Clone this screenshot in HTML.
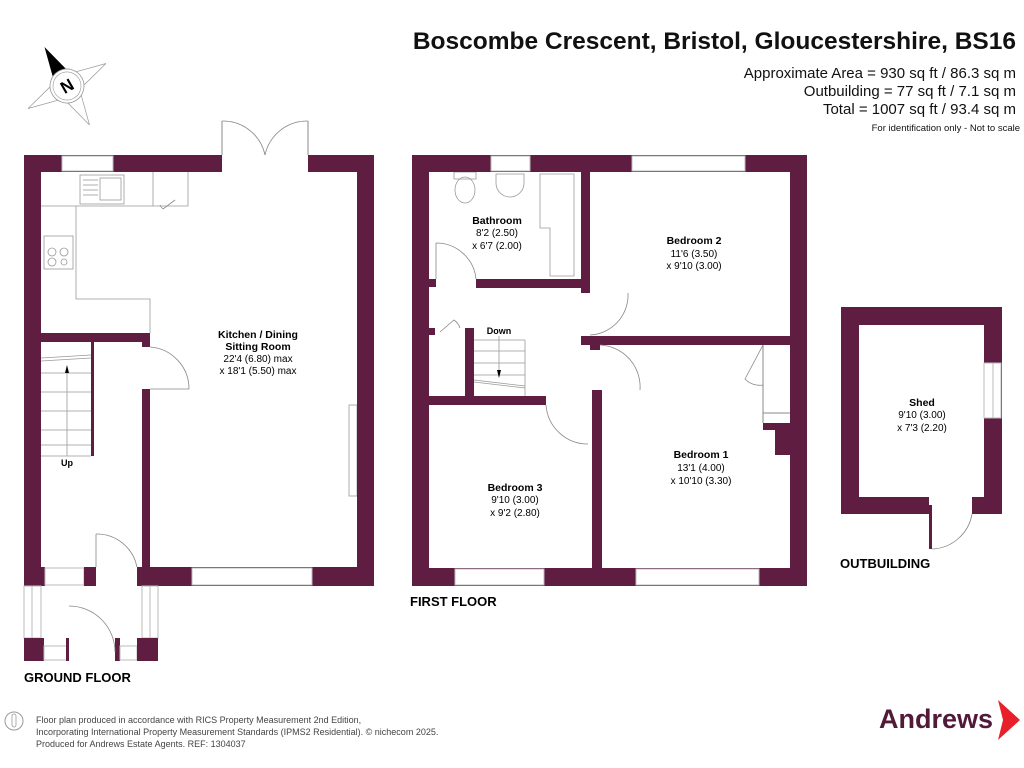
<!DOCTYPE html>
<html><head><meta charset="utf-8"><style>
body{margin:0;background:#fff;}
svg{display:block;font-family:"Liberation Sans",Arial,sans-serif;}
</style></head><body>
<svg width="1024" height="768" viewBox="0 0 1024 768" xmlns="http://www.w3.org/2000/svg">
<defs><style>.w{fill:#5e1d41}.win{fill:#fff;stroke:#bbb;stroke-width:1}.t{stroke:#999;stroke-width:0.8;fill:none}.d{stroke:#888;stroke-width:0.8;fill:none}</style></defs>

<text x="1016" y="49" text-anchor="end" font-size="24.5" font-weight="bold" fill="#111">Boscombe Crescent, Bristol, Gloucestershire, BS16</text>
<text x="1016" y="78" text-anchor="end" font-size="15" fill="#111">Approximate Area = 930 sq ft / 86.3 sq m</text>
<text x="1016" y="96" text-anchor="end" font-size="15" fill="#111">Outbuilding = 77 sq ft / 7.1 sq m</text>
<text x="1016" y="114" text-anchor="end" font-size="15" fill="#111">Total = 1007 sq ft / 93.4 sq m</text>
<text x="1020" y="131" text-anchor="end" font-size="9.5" fill="#111">For identification only - Not to scale</text>

<g transform="translate(67,86) rotate(-30)">
<polygon points="0,-45 8,-14 0,-16 -8,-14" fill="#000"/>
<polygon points="0,-16 8,-14 16,0 0,0" fill="none" stroke="#999" stroke-width="0.7"/>
<polygon points="45,0 14,8 16,0 14,-8" fill="none" stroke="#999" stroke-width="0.7"/>
<polygon points="0,45 -8,14 0,16 8,14" fill="none" stroke="#999" stroke-width="0.7"/>
<polygon points="-45,0 -14,-8 -16,0 -14,8" fill="none" stroke="#999" stroke-width="0.7"/>
<circle r="17" fill="#fff" stroke="#999" stroke-width="0.8"/>
<circle r="14" fill="none" stroke="#999" stroke-width="0.6"/>
<text x="0" y="6" text-anchor="middle" font-size="17" font-weight="bold">N</text>
</g>

<path class="t" d="M41,206 H76 V299 H150 V333 M76,206 H188 V172 M153,172 V206"/>
<rect x="80" y="175" width="44" height="29" class="t"/>
<rect x="100" y="178" width="21" height="22" class="t"/>
<line x1="83" y1="180" x2="98" y2="180" class="t"/><line x1="83" y1="185" x2="98" y2="185" class="t"/><line x1="83" y1="190" x2="98" y2="190" class="t"/><line x1="83" y1="195" x2="98" y2="195" class="t"/>
<rect x="44" y="236" width="29" height="33" class="t"/>
<circle cx="52" cy="252" r="4" class="t"/><circle cx="64" cy="252" r="4" class="t"/><circle cx="52" cy="262" r="4" class="t"/><circle cx="64" cy="262" r="3" class="t"/>
<path class="d" d="M163,209 L175,200 M163,209 A12,12 0 0 1 160,205"/>
<rect x="349" y="405" width="8" height="91" class="t"/>
<rect class="w" x="24" y="155" width="198" height="17"/>
<rect class="w" x="308" y="155" width="66" height="17"/>
<rect class="win" x="62" y="156" width="51" height="15"/>
<rect class="w" x="24" y="155" width="17" height="431"/>
<rect class="w" x="357" y="155" width="17" height="431"/>
<rect class="w" x="137" y="567" width="237" height="19"/>
<rect class="win" x="192" y="568" width="120" height="17"/>
<rect class="w" x="24" y="567" width="21" height="19"/>
<rect class="win" x="45" y="568" width="39" height="17"/>
<rect class="w" x="84" y="567" width="12" height="19"/>
<rect class="w" x="41" y="333" width="109" height="9"/>
<rect class="w" x="142" y="342" width="8" height="5"/>
<rect class="w" x="142" y="389" width="8" height="178"/>
<rect class="w" x="91" y="342" width="3" height="114"/>
<line x1="222" y1="121" x2="222" y2="155" stroke="#888"/>
<line x1="308" y1="121" x2="308" y2="155" stroke="#888"/>
<path class="d" d="M222,121 A43,43 0 0 1 265,155 M308,121 A43,43 0 0 0 265,155"/>
<g class="t">
<line x1="41" y1="358" x2="91" y2="355"/><line x1="41" y1="361" x2="91" y2="358"/>
<line x1="41" y1="373" x2="91" y2="373"/><line x1="41" y1="392" x2="91" y2="392"/><line x1="41" y1="411" x2="91" y2="411"/><line x1="41" y1="430" x2="91" y2="430"/><line x1="41" y1="445" x2="91" y2="445"/><line x1="41" y1="456" x2="91" y2="456"/>
<line x1="67" y1="372" x2="67" y2="456"/></g>
<polygon points="67,365 65,373 69,373" fill="#000"/>
<text x="67" y="466" text-anchor="middle" font-size="9" font-weight="bold">Up</text>
<path class="d" d="M150,347 A42,42 0 0 1 189,389 L150,389"/>
<path class="d" d="M96,534 V567 M96,534 A41,41 0 0 1 137,567"/>
<rect class="win" x="24" y="586" width="17" height="52"/><line x1="32" y1="586" x2="32" y2="638" stroke="#bbb"/>
<rect class="win" x="142" y="586" width="16" height="52"/><line x1="150" y1="586" x2="150" y2="638" stroke="#bbb"/>
<rect class="w" x="24" y="638" width="20" height="23"/>
<rect class="win" x="44" y="646" width="23" height="14"/>
<rect class="w" x="66" y="638" width="3" height="23"/>
<rect class="w" x="115" y="638" width="5" height="23"/>
<rect class="win" x="120" y="646" width="17" height="14"/>
<rect class="w" x="137" y="638" width="21" height="23"/>
<path class="d" d="M69,606 A46,46 0 0 1 115,652"/>
<text x="258" y="338" text-anchor="middle" font-size="10.5" font-weight="bold">Kitchen / Dining</text>
<text x="258" y="350" text-anchor="middle" font-size="10.5" font-weight="bold">Sitting Room</text>
<text x="258" y="362" text-anchor="middle" font-size="10">22'4 (6.80) max</text>
<text x="258" y="374" text-anchor="middle" font-size="10">x 18'1 (5.50) max</text>
<text x="24" y="682" font-size="13" font-weight="bold">GROUND FLOOR</text>

<ellipse cx="465" cy="190" rx="10" ry="13" class="t"/><rect x="454" y="172" width="22" height="7" class="t"/>
<path class="t" d="M496,174 H524 V183 A14,14 0 0 1 496,183 Z"/>
<path class="t" d="M540,174 H574 V276 H550 V228 H540 Z"/>
<rect class="w" x="412" y="155" width="395" height="17"/>
<rect class="win" x="491" y="156" width="39" height="15"/>
<rect class="win" x="632" y="156" width="113" height="15"/>
<rect class="w" x="412" y="155" width="17" height="431"/>
<rect class="w" x="790" y="155" width="17" height="431"/>
<rect class="w" x="412" y="568" width="395" height="18"/>
<rect class="win" x="455" y="569" width="89" height="16"/>
<rect class="win" x="636" y="569" width="123" height="16"/>
<rect class="w" x="581" y="172" width="9" height="121"/>
<rect class="w" x="476" y="279" width="114" height="9"/>
<rect class="w" x="429" y="279" width="7" height="8"/>
<rect class="w" x="581" y="336" width="226" height="9"/>
<rect class="w" x="590" y="345" width="10" height="5"/>
<rect class="w" x="592" y="390" width="10" height="178"/>
<rect class="w" x="429" y="396" width="117" height="9"/>
<rect class="w" x="465" y="328" width="9" height="68"/>
<rect class="w" x="429" y="328" width="6" height="7"/>
<rect class="w" x="763" y="423" width="27" height="7"/>
<rect class="w" x="775" y="423" width="15" height="32"/>
<line x1="763" y1="345" x2="763" y2="423" stroke="#888"/>
<line x1="763" y1="413" x2="790" y2="413" stroke="#888"/>
<g class="t"><line x1="474" y1="340" x2="525" y2="340"/><line x1="525" y1="340" x2="525" y2="396"/>
<line x1="474" y1="351" x2="525" y2="351"/><line x1="474" y1="363" x2="525" y2="363"/><line x1="474" y1="375" x2="525" y2="375"/><line x1="474" y1="380" x2="525" y2="386"/><line x1="474" y1="382" x2="525" y2="388"/>
<line x1="499" y1="336" x2="499" y2="372"/></g>
<polygon points="499,378 497,370 501,370" fill="#000"/>
<text x="499" y="334" text-anchor="middle" font-size="9" font-weight="bold">Down</text>
<path class="d" d="M436,243 V279 M436,243 A40,40 0 0 1 476,279"/>
<path class="d" d="M590,335 A40,40 0 0 0 628,293"/>
<path class="d" d="M600,345 A42,42 0 0 1 640,390"/>
<path class="d" d="M546,405 A42,42 0 0 0 588,444"/>
<path class="d" d="M440,332 L454,320 A16,16 0 0 1 460,328"/>
<path class="d" d="M763,345 L745,379 A20,20 0 0 0 763,385"/>
<text x="497" y="224" text-anchor="middle" font-size="10.5" font-weight="bold">Bathroom</text>
<text x="497" y="236" text-anchor="middle" font-size="10">8'2 (2.50)</text>
<text x="497" y="249" text-anchor="middle" font-size="10">x 6'7 (2.00)</text>
<text x="694" y="244" text-anchor="middle" font-size="10.5" font-weight="bold">Bedroom 2</text>
<text x="694" y="257" text-anchor="middle" font-size="10">11'6 (3.50)</text>
<text x="694" y="269" text-anchor="middle" font-size="10">x 9'10 (3.00)</text>
<text x="701" y="458" text-anchor="middle" font-size="10.5" font-weight="bold">Bedroom 1</text>
<text x="701" y="471" text-anchor="middle" font-size="10">13'1 (4.00)</text>
<text x="701" y="484" text-anchor="middle" font-size="10">x 10'10 (3.30)</text>
<text x="515" y="491" text-anchor="middle" font-size="10.5" font-weight="bold">Bedroom 3</text>
<text x="515" y="503" text-anchor="middle" font-size="10">9'10 (3.00)</text>
<text x="515" y="516" text-anchor="middle" font-size="10">x 9'2 (2.80)</text>
<text x="410" y="606" font-size="13" font-weight="bold">FIRST FLOOR</text>

<rect class="w" x="841" y="307" width="161" height="18"/>
<rect class="w" x="841" y="307" width="18" height="207"/>
<rect class="w" x="984" y="307" width="18" height="207"/>
<rect class="win" x="984" y="363" width="17" height="55"/><line x1="993" y1="363" x2="993" y2="418" stroke="#bbb"/>
<rect class="w" x="841" y="497" width="88" height="17"/>
<rect class="w" x="972" y="497" width="30" height="17"/>
<rect class="w" x="929" y="505" width="3" height="44"/>
<path class="d" d="M932,549 A42,42 0 0 0 972,514"/>
<text x="922" y="406" text-anchor="middle" font-size="10.5" font-weight="bold">Shed</text>
<text x="922" y="418" text-anchor="middle" font-size="10">9'10 (3.00)</text>
<text x="922" y="431" text-anchor="middle" font-size="10">x 7'3 (2.20)</text>
<text x="840" y="568" font-size="13" font-weight="bold">OUTBUILDING</text>

<circle cx="14" cy="721" r="9" fill="none" stroke="#999" stroke-width="1"/>
<rect x="12" y="714" width="4" height="13" rx="2" fill="none" stroke="#999" stroke-width="0.8"/>
<text x="36" y="723" font-size="9" fill="#444">Floor plan produced in accordance with RICS Property Measurement 2nd Edition,</text>
<text x="36" y="735" font-size="9" fill="#444">Incorporating International Property Measurement Standards (IPMS2 Residential).  © nichecom 2025.</text>
<text x="36" y="747" font-size="9" fill="#444">Produced for Andrews Estate Agents.   REF:  1304037</text>
<text x="879" y="728" font-size="27" font-weight="bold" fill="#521a39">Andrews</text>
<polygon points="998,700 1020,720 998,740 1003,720" fill="#e8202a"/>
</svg>
</body></html>
